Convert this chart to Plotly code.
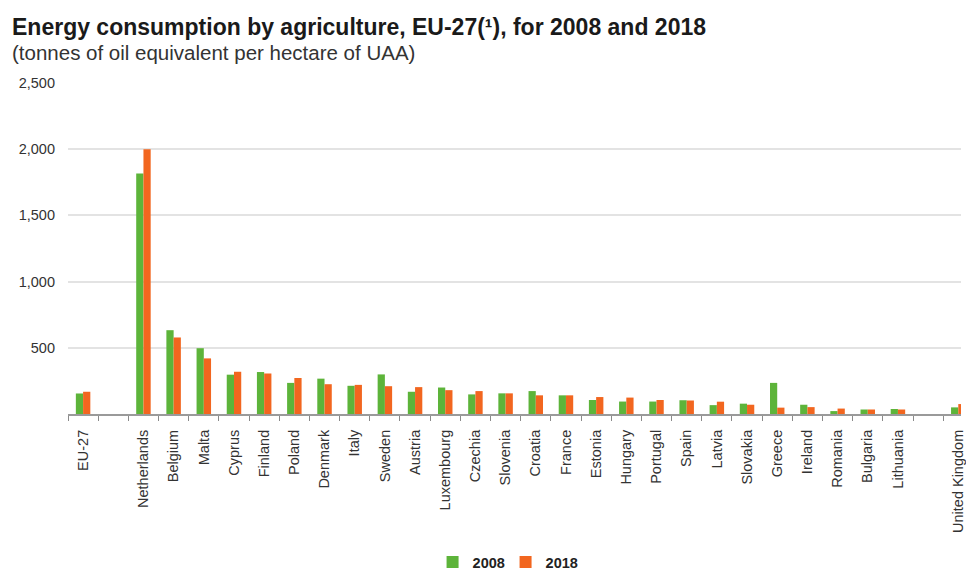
import plotly.graph_objects as go

categories = ["EU-27", " ", "Netherlands", "Belgium", "Malta", "Cyprus", "Finland", "Poland",
              "Denmark", "Italy", "Sweden", "Austria", "Luxembourg", "Czechia", "Slovenia",
              "Croatia", "France", "Estonia", "Hungary", "Portugal", "Spain", "Latvia",
              "Slovakia", "Greece", "Ireland", "Romania", "Bulgaria", "Lithuania", "  ",
              "United Kingdom"]
values_2008 = [155, None, 1817, 633, 497, 297, 317, 235, 267, 213, 299, 168, 200, 148, 156,
               173, 141, 106, 94, 94, 104, 67, 78, 235, 70, 22, 34, 38, None, 50]
values_2018 = [168, None, 2000, 578, 420, 319, 306, 272, 225, 220, 210, 203, 180, 173, 156,
               141, 141, 128, 124, 106, 102, 93, 70, 48, 52, 41, 34, 34, None, 75]
y_ticks = [0, 500, 1000, 1500, 2000, 2500]
y_tick_labels = ["", "500", "1,000", "1,500", "2,000", "2,500"]

GREEN = "#5DB43A"
ORANGE = "#F2661F"
FONT = "Liberation Sans, Arial, sans-serif"

fig = go.Figure()
fig.add_trace(go.Bar(x=categories, y=values_2008, name="2008", marker_color=GREEN,
                     marker_line_width=0))
fig.add_trace(go.Bar(x=categories, y=values_2018, name="2018", marker_color=ORANGE,
                     marker_line_width=0))

fig.update_layout(
    width=966, height=578,
    margin=dict(l=68, r=0, t=83, b=158),
    paper_bgcolor="white", plot_bgcolor="white",
    barmode="group", bargap=0.52, bargroupgap=0.0,
    font=dict(family=FONT, size=13, color="#333333"),
    showlegend=True,
    legend=dict(orientation="h", x=0.49, xanchor="center", y=-0.448, yanchor="middle",
                font=dict(family=FONT, size=14.5, color="#222222", weight="bold"),
                itemwidth=30, entrywidth=28, entrywidthmode="pixels", traceorder="normal"),
    annotations=[
        dict(text="<b>Energy consumption by agriculture, EU-27(¹), for 2008 and 2018</b>",
             xref="paper", yref="paper", x=-0.0646, y=1.169, xanchor="left", yanchor="middle",
             showarrow=False, font=dict(family=FONT, size=23, color="#1a1a1a")),
        dict(text="(tonnes of oil equivalent per hectare of UAA)",
             xref="paper", yref="paper", x=-0.0646, y=1.092, xanchor="left", yanchor="middle",
             showarrow=False, font=dict(family=FONT, size=20.5, color="#333333")),
    ],
)

fig.update_xaxes(
    type="category", categoryorder="array", categoryarray=categories,
    range=[-0.5, 29.09],
    showgrid=False, showline=True, linecolor="#9a9a9a", linewidth=2,
    ticks="outside", tickson="boundaries", ticklen=5, tickcolor="#8a8a8a", tickwidth=1,
    tickangle=-90, tickfont=dict(family=FONT, size=14.5, color="#333333"),
    ticklabelstandoff=8,
    zeroline=False,
)
fig.update_yaxes(
    range=[0, 2500], tickvals=y_ticks, ticktext=y_tick_labels,
    showgrid=True, gridcolor="#e3e3e3", gridwidth=1.5,
    showline=False, zeroline=False, ticks="",
    tickfont=dict(family=FONT, size=14.5, color="#333333"),
    ticklabelstandoff=12,
)

fig.write_html("out.html")
